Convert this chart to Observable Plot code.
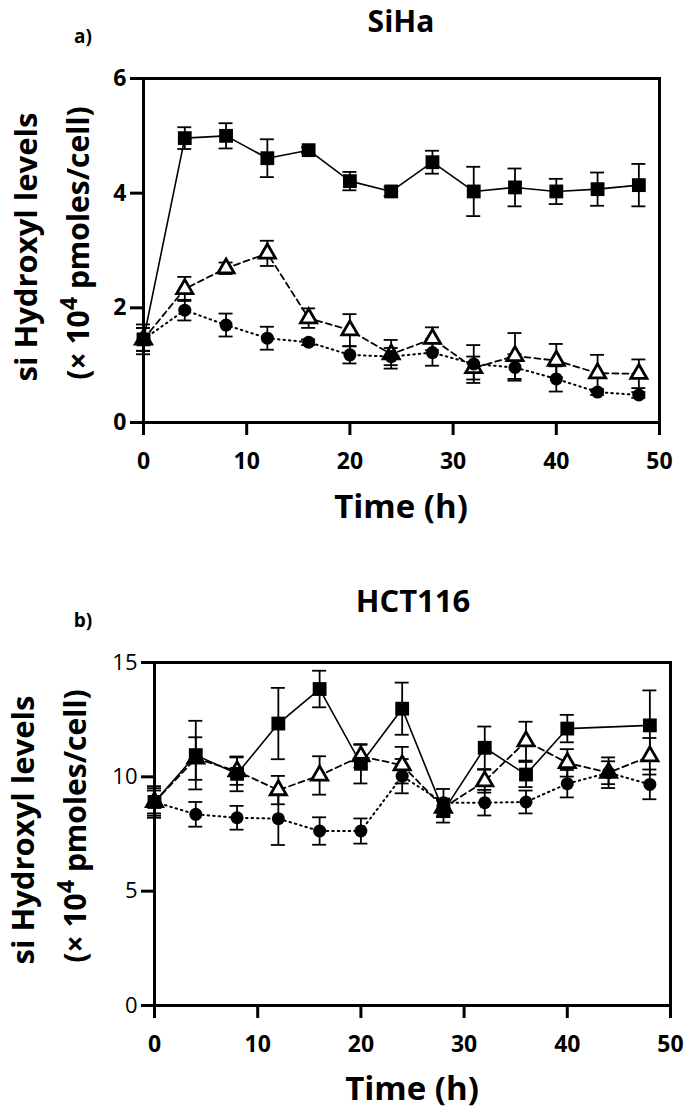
<!DOCTYPE html>
<html><head><meta charset="utf-8">
<script src="https://cdn.jsdelivr.net/npm/d3@7"></script>
<script src="https://cdn.jsdelivr.net/npm/@observablehq/plot@0.6"></script>
<style>
body{margin:0;background:#fff;font-family:"Open Sans",Lato,sans-serif;}
#wrap{position:relative;width:685px;height:1114px;overflow:hidden;background:#fff;}
.t{position:absolute;z-index:5;font-weight:700;color:#000;white-space:nowrap;transform:translate(-50%,-50%);line-height:1.1;}
.yl{transform:translate(-50%,-50%) rotate(-90deg);}
.yl sup{font-size:0.78em;line-height:0;vertical-align:0.5em;}
.p{position:absolute;left:0;z-index:1;}
</style></head><body><div id="wrap">
<div class="t" style="left:401px;top:20px;font-size:30px;">SiHa</div>
<div class="t" style="left:83px;top:36px;font-size:19px;">a)</div>
<div class="t yl" style="left:25px;top:247px;font-size:31px;">si Hydroxyl levels</div>
<div class="t yl" style="left:77px;top:243px;font-size:30px;">(× 10<sup>4</sup> pmoles/cell)</div>
<div class="t" style="left:401px;top:506px;font-size:33px;">Time (h)</div>
<div class="t" style="left:413px;top:600px;font-size:31px;">HCT116</div>
<div class="t" style="left:83px;top:620px;font-size:19px;">b)</div>
<div class="t yl" style="left:22px;top:830px;font-size:31px;">si Hydroxyl levels</div>
<div class="t yl" style="left:74px;top:826px;font-size:30px;">(× 10<sup>4</sup> pmoles/cell)</div>
<div class="t" style="left:412px;top:1088px;font-size:33px;">Time (h)</div>
<div id="pa" class="p" style="top:0px"></div>
<div id="pb" class="p" style="top:560px"></div>
</div>
<script>
// Time points (h)
const hours = [0,4,8,12,16,20,24,28,32,36,40,44,48];
const hoursHctSquare = [0,4,8,12,16,20,24,28,32,36,40,48];
const xTicks = [0,10,20,30,40,50];

// SiHa
const sihaSquare    = [1.45,4.96,5.00,4.61,4.75,4.21,4.03,4.54,4.03,4.10,4.03,4.07,4.14];
const sihaSquareErr = [0.26,0.19,0.22,0.33,0.05,0.16,0.08,0.20,0.43,0.33,0.22,0.29,0.37];
const sihaTri       = [1.45,2.33,2.69,2.95,1.82,1.61,1.19,1.46,0.95,1.16,1.08,0.86,0.85];
const sihaTriErr    = [0.20,0.21,0.10,0.22,0.17,0.28,0.25,0.20,0.20,0.40,0.29,0.32,0.25];
const sihaCirc      = [1.45,1.96,1.70,1.47,1.40,1.18,1.15,1.22,1.02,0.96,0.76,0.53,0.48];
const sihaCircErr   = [0.20,0.18,0.20,0.20,0.05,0.15,0.15,0.23,0.33,0.23,0.22,0.05,0.05];
const sihaYTicks = [0,2,4,6];

// HCT116
const hctSquare    = [8.90,10.95,10.13,12.33,13.84,10.57,12.98,8.50,11.27,10.10,12.11,12.25];
const hctSquareErr = [0.69,1.50,0.76,1.56,0.80,0.86,1.14,0.50,0.93,0.55,0.60,1.53];
const hctTri       = [8.90,10.80,10.25,9.42,10.06,10.90,10.51,8.65,9.81,11.56,10.61,10.18,10.90];
const hctTriErr    = [0.60,0.93,0.60,0.62,0.84,0.50,0.80,0.40,0.50,0.85,0.60,0.67,0.80];
const hctCirc      = [8.90,8.36,8.21,8.17,7.63,7.63,10.03,8.87,8.87,8.90,9.70,10.18,9.67];
const hctCircErr   = [0.50,0.54,0.52,1.15,0.60,0.55,0.75,0.60,0.56,0.50,0.60,0.50,0.65];
const hctYTicks = [0,5,10,15];

const rows = (ts, vs, es) => ts.map((t,i) => ({t, v: vs[i], e: es[i]}));

function panel({sq, tri, circ, yDomain, yTicks, height, mt, mb, ml, mr, yWeight, ySize}) {
  const all = [...circ, ...tri, ...sq];
  const cap = {x1:"t", x2:"t", insetLeft:-7, insetRight:-7, stroke:"black", strokeWidth:1.8};
  return Plot.plot({
    width: 685, height,
    marginTop: mt, marginBottom: mb, marginLeft: ml, marginRight: mr,
    style: {fontFamily: "'Open Sans', Lato, sans-serif", color: "black", background: "transparent", overflow: "visible"},
    x: {domain: [0, 50]},
    y: {domain: yDomain},
    marks: [
      Plot.line(circ, {x:"t", y:"v", stroke:"black", strokeWidth:2, strokeDasharray:"1.5,4", strokeLinecap:"round"}),
      Plot.line(tri, {x:"t", y:"v", stroke:"black", strokeWidth:1.8, strokeDasharray:"6,4"}),
      Plot.line(sq, {x:"t", y:"v", stroke:"black", strokeWidth:1.6}),
      Plot.ruleX(all, {x:"t", y1: d => d.v - d.e, y2: d => d.v + d.e, stroke:"black", strokeWidth:1.8}),
      Plot.ruleY(all, {y: d => d.v + d.e, ...cap}),
      Plot.ruleY(all, {y: d => d.v - d.e, ...cap}),
      Plot.dot(tri, {x:"t", y:"v", symbol:"triangle", r:6, fill:"white", stroke:null}),
      Plot.dot(circ, {x:"t", y:"v", r:6.5, fill:"black", stroke:null}),
      Plot.dot(sq, {x:"t", y:"v", symbol:"square", r:7.8, fill:"black", stroke:null}),
      Plot.dot(tri, {x:"t", y:"v", symbol:"triangle", r:6, fill:"none", stroke:"black", strokeWidth:2.8}),
      Plot.frame({stroke:"black", strokeWidth:3}),
      Plot.axisY({ticks: yTicks, tickSize:13, tickPadding:4, strokeWidth:3, fontSize:ySize, fontWeight:yWeight, tickFormat:"d", label:null}),
      Plot.axisX({ticks: xTicks, tickSize:13, tickPadding:17, strokeWidth:3, fontSize:23, fontWeight:700, tickFormat:"d", label:null})
    ]
  });
}

document.getElementById("pa").appendChild(panel({
  sq: rows(hours, sihaSquare, sihaSquareErr),
  tri: rows(hours, sihaTri, sihaTriErr),
  circ: rows(hours, sihaCirc, sihaCircErr),
  yDomain:[0,6], yTicks: sihaYTicks, height:530, mt:78, mb:108, ml:143, mr:26, yWeight:700, ySize:23
}));
document.getElementById("pb").appendChild(panel({
  sq: rows(hoursHctSquare, hctSquare, hctSquareErr),
  tri: rows(hours, hctTri, hctTriErr),
  circ: rows(hours, hctCirc, hctCircErr),
  yDomain:[0,15], yTicks: hctYTicks, height:554, mt:102, mb:109, ml:154, mr:15, yWeight:500, ySize:22
}));
</script>
</body></html>
